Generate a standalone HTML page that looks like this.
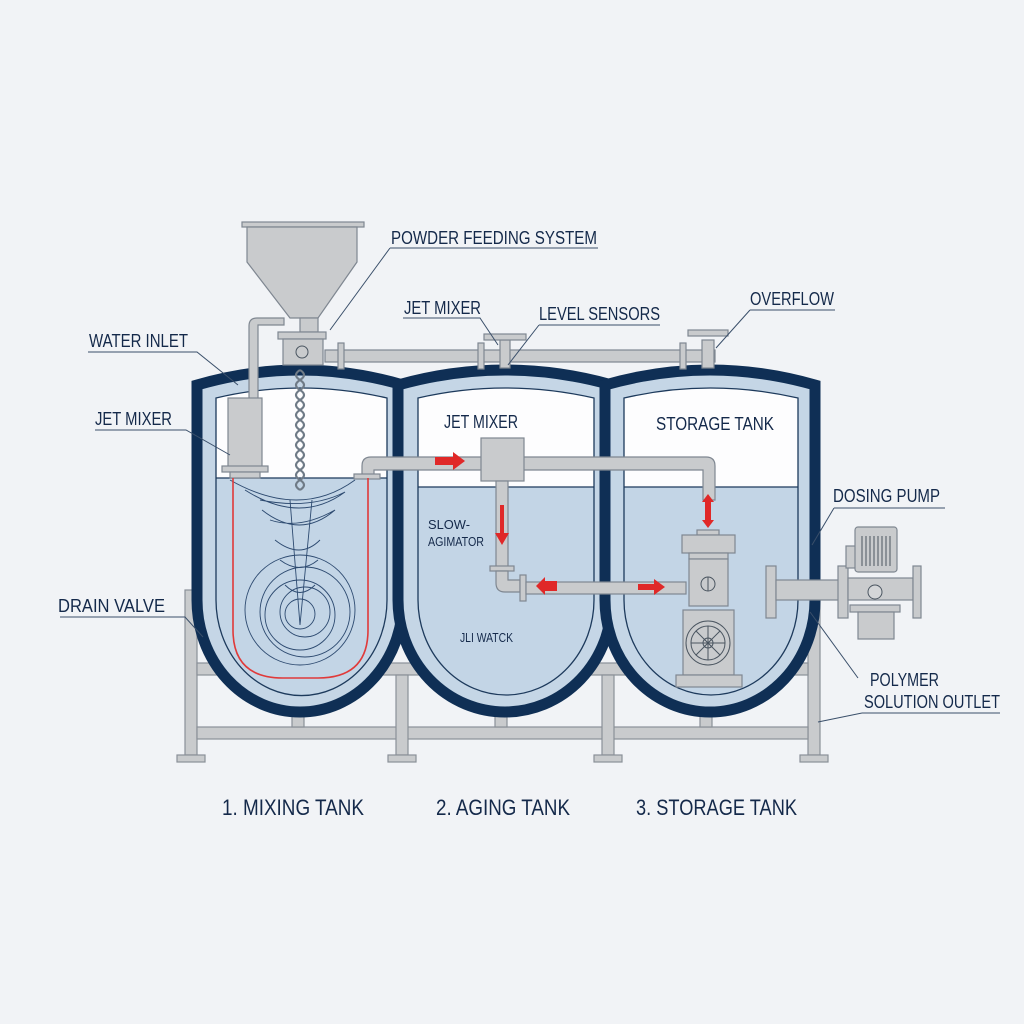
<!DOCTYPE html>
<html><head><meta charset="utf-8"><style>
html,body{margin:0;padding:0;background:#f1f3f6;}
svg{display:block}
text{font-family:"Liberation Sans",sans-serif;fill:#14294a;}
</style></head><body>
<svg width="1024" height="1024" viewBox="0 0 1024 1024" xmlns="http://www.w3.org/2000/svg">
<rect width="1024" height="1024" fill="#f1f3f6"/>
<defs>
<clipPath id="c1"><path d="M216,398 Q300,378 387,398 L387,600 A85,95 0 0 1 216,600 Z"/></clipPath>
<clipPath id="c2"><path d="M418,398 Q505,378 594,398 L594,600 A88,95 0 0 1 418,600 Z"/></clipPath>
<clipPath id="c3"><path d="M624,398 Q710,378 798,398 L798,600 A87,95 0 0 1 624,600 Z"/></clipPath>
</defs>
<g fill="#c9cbcd" stroke="#8a9098" stroke-width="1.2">
<rect x="185" y="590" width="12" height="165"/><rect x="177" y="755" width="28" height="7"/>
<rect x="808" y="590" width="12" height="165"/><rect x="800" y="755" width="28" height="7"/>
<rect x="197" y="663" width="611" height="12"/>
<rect x="197" y="727" width="611" height="12"/>
<rect x="292" y="712" width="12" height="15"/>
<rect x="396" y="675" width="12" height="80"/><rect x="388" y="755" width="28" height="7"/>
<rect x="495" y="712" width="12" height="15"/>
<rect x="602" y="675" width="12" height="80"/><rect x="594" y="755" width="28" height="7"/>
<rect x="700" y="712" width="12" height="15"/>
</g>
<g>
<path d="M197,385 Q300,355 403,385 L403,600 A103,112 0 0 1 197,600 Z" fill="#c5d6e6" stroke="#0f2f55" stroke-width="11"/>
<path d="M398,385 Q505,355 612,385 L612,600 A107,112 0 0 1 398,600 Z" fill="#c5d6e6" stroke="#0f2f55" stroke-width="11"/>
<path d="M605,385 Q710,355 815,385 L815,600 A105,112 0 0 1 605,600 Z" fill="#c5d6e6" stroke="#0f2f55" stroke-width="11"/>
</g>
<g clip-path="url(#c1)"><rect x="200" y="370" width="200" height="108" fill="#fdfdfe"/><rect x="200" y="478" width="200" height="240" fill="#c3d5e6"/></g>
<g clip-path="url(#c2)"><rect x="400" y="370" width="210" height="117" fill="#fdfdfe"/><rect x="400" y="487" width="210" height="240" fill="#c3d5e6"/></g>
<g clip-path="url(#c3)"><rect x="610" y="370" width="200" height="117" fill="#fdfdfe"/><rect x="610" y="487" width="200" height="240" fill="#c3d5e6"/></g>
<g fill="none" stroke="#1d3a5c" stroke-width="1.3">
<path d="M216,398 Q300,378 387,398 L387,600 A85,95 0 0 1 216,600 Z"/>
<path d="M418,398 Q505,378 594,398 L594,600 A88,95 0 0 1 418,600 Z"/>
<path d="M624,398 Q710,378 798,398 L798,600 A87,95 0 0 1 624,600 Z"/>
<path d="M216,478 H387 M418,487 H594 M624,487 H798"/>
</g>
<g fill="#c9cbcd" stroke="#7f8791" stroke-width="1.2">
<rect x="325" y="350" width="390" height="12"/>
<rect x="338" y="343" width="6" height="26"/><rect x="478" y="343" width="6" height="26"/><rect x="680" y="343" width="6" height="26"/>
<rect x="500" y="340" width="10" height="28"/><rect x="484" y="334" width="42" height="6"/>
<rect x="702" y="340" width="12" height="28"/><rect x="688" y="330" width="40" height="6"/>
<rect x="242" y="222" width="122" height="5"/>
<path d="M247,227 H357 V262 L318,318 H290 L247,262 Z"/>
<rect x="300" y="318" width="18" height="14"/>
<rect x="278" y="332" width="48" height="7"/>
<rect x="283" y="339" width="40" height="26"/>
<path d="M249,400 V326 Q249,318 257,318 H284 V325 H258 V400 Z"/>
<rect x="228" y="398" width="34" height="70"/>
<rect x="222" y="466" width="46" height="6"/>
<rect x="230" y="472" width="30" height="6"/>
<path d="M362,475 V466 Q362,457 371,457 H706 Q715,457 715,466 V500 H703 V470 H374 V475 Z"/>
<rect x="354" y="474" width="26" height="5"/>
<rect x="481" y="438" width="43" height="43"/>
<rect x="496" y="481" width="12" height="86"/>
<rect x="490" y="566" width="24" height="5"/>
<path d="M496,571 H508 V580 H520 V592 H505 Q496,592 496,583 Z"/>
<rect x="520" y="575" width="6" height="26"/>
<rect x="526" y="582" width="160" height="12"/>
<rect x="697" y="530" width="22" height="5"/>
<rect x="682" y="535" width="53" height="18"/>
<rect x="689" y="553" width="39" height="6"/>
<rect x="689" y="559" width="39" height="47"/>
<rect x="683" y="610" width="51" height="65"/>
<rect x="676" y="675" width="66" height="12"/>
<rect x="766" y="566" width="10" height="52"/>
<rect x="776" y="580" width="64" height="20"/>
<rect x="838" y="566" width="10" height="52"/>
<rect x="848" y="578" width="65" height="22"/>
<rect x="913" y="566" width="8" height="52"/>
<rect x="846" y="546" width="10" height="22"/>
<rect x="855" y="527" width="42" height="45" rx="3"/>
<rect x="850" y="605" width="50" height="7"/>
<rect x="858" y="612" width="36" height="27"/>
</g>
<g fill="none" stroke="#4a5560" stroke-width="1">
<circle cx="302" cy="352" r="6"/>
<circle cx="708" cy="584" r="7"/><line x1="708" y1="577" x2="708" y2="591"/>
<circle cx="708" cy="643" r="22"/><circle cx="708" cy="643" r="17"/><circle cx="708" cy="643" r="5"/>
<path d="M708,626 V660 M691,643 H725 M696,631 L720,655 M720,631 L696,655"/>
<path d="M862,536 V566 M866,536 V566 M870,536 V566 M874,536 V566 M878,536 V566 M882,536 V566 M886,536 V566 M890,536 V566"/>
<circle cx="875" cy="592" r="7" fill="#d4d6d8"/>
</g>
<g fill="none" stroke="#6f7b87" stroke-width="2.2">
<path d="M300,370 q8,5 0,10 q-8,5 0,10 q8,5 0,10 q-8,5 0,10 q8,5 0,10 q-8,5 0,10 q8,5 0,10 q-8,5 0,10 q8,5 0,10 q-8,5 0,10 q8,5 0,10 q-8,5 0,10"/>
<path d="M300,370 q-8,5 0,10 q8,5 0,10 q-8,5 0,10 q8,5 0,10 q-8,5 0,10 q8,5 0,10 q-8,5 0,10 q8,5 0,10 q-8,5 0,10 q8,5 0,10 q-8,5 0,10 q8,5 0,10"/>
</g>
<g fill="none" stroke="#2d4a70" stroke-width="0.9">
<path d="M230,480 Q300,520 355,480"/>
<path d="M245,490 Q300,525 345,492 Q310,510 260,500"/>
<path d="M262,510 Q300,540 335,510 Q300,530 270,520"/>
<path d="M275,540 Q300,560 320,540 M280,560 Q300,575 318,560 M285,585 Q300,600 315,585"/>
<circle cx="300" cy="610" r="55"/><circle cx="305" cy="612" r="45"/><circle cx="300" cy="615" r="35"/><circle cx="305" cy="612" r="25"/><circle cx="300" cy="614" r="15"/>
<path d="M290,500 L300,625 L312,500"/>
</g>
<path d="M233,478 V630 Q233,678 283,678 H318 Q368,678 368,630 V478" fill="none" stroke="#e03a3a" stroke-width="1.6"/>
<g fill="#e02828">
<path d="M435,457 h18 v-5 l12,9 l-12,9 v-5 h-18 z"/>
<path d="M500,505 h4 v28 h5 l-7,12 l-7,-12 h5 z"/>
<path d="M557,581 h-12 v-4 l-9,9 l9,9 v-4 h12 z"/>
<path d="M638,584 h16 v-5 l11,8 l-11,8 v-5 h-16 z"/>
<path d="M708,494 l6,8 h-3 v18 h3 l-6,8 l-6,-8 h3 v-18 h-3 z"/>
</g>
<g fill="none" stroke="#3a4f6a" stroke-width="1">
<path d="M390,248 H598 M390,248 L330,330"/>
<path d="M403,318 H480 L498,345"/>
<path d="M539,325 H660 M539,325 L508,365"/>
<path d="M750,310 H835 M750,310 L716,348"/>
<path d="M88,352 H197 L238,385"/>
<path d="M95,430 H186 L230,455"/>
<path d="M60,617 H185 L203,637"/>
<path d="M834,508 H945 M834,508 L812,545"/>
<path d="M862,713 H1000 M862,713 L818,722"/>
<path d="M858,678 L810,612"/>
</g>
<g font-size="18">
<text x="391" y="244" textLength="206" lengthAdjust="spacingAndGlyphs">POWDER FEEDING SYSTEM</text>
<text x="404" y="314" textLength="77" lengthAdjust="spacingAndGlyphs">JET MIXER</text>
<text x="539" y="320" textLength="121" lengthAdjust="spacingAndGlyphs">LEVEL SENSORS</text>
<text x="750" y="305" textLength="84" lengthAdjust="spacingAndGlyphs">OVERFLOW</text>
<text x="89" y="347" textLength="99" lengthAdjust="spacingAndGlyphs">WATER INLET</text>
<text x="95" y="425" textLength="77" lengthAdjust="spacingAndGlyphs">JET MIXER</text>
<text x="58" y="612" textLength="107" lengthAdjust="spacingAndGlyphs">DRAIN VALVE</text>
<text x="833" y="502" textLength="107" lengthAdjust="spacingAndGlyphs">DOSING PUMP</text>
<text x="870" y="686" textLength="69" lengthAdjust="spacingAndGlyphs">POLYMER</text>
<text x="864" y="708" textLength="136" lengthAdjust="spacingAndGlyphs">SOLUTION OUTLET</text>
<text x="444" y="428" textLength="74" lengthAdjust="spacingAndGlyphs">JET MIXER</text>
<text x="656" y="430" textLength="118" lengthAdjust="spacingAndGlyphs">STORAGE TANK</text>
</g>
<g font-size="13"><text x="428" y="529" textLength="42" lengthAdjust="spacingAndGlyphs">SLOW-</text><text x="428" y="546" textLength="56" lengthAdjust="spacingAndGlyphs">AGIMATOR</text><text x="460" y="642" textLength="53" lengthAdjust="spacingAndGlyphs">JLI WATCK</text></g>
<g font-size="22"><text x="222" y="815" textLength="142" lengthAdjust="spacingAndGlyphs">1. MIXING TANK</text><text x="436" y="815" textLength="134" lengthAdjust="spacingAndGlyphs">2. AGING TANK</text><text x="636" y="815" textLength="161" lengthAdjust="spacingAndGlyphs">3. STORAGE TANK</text></g>
</svg>
</body></html>
